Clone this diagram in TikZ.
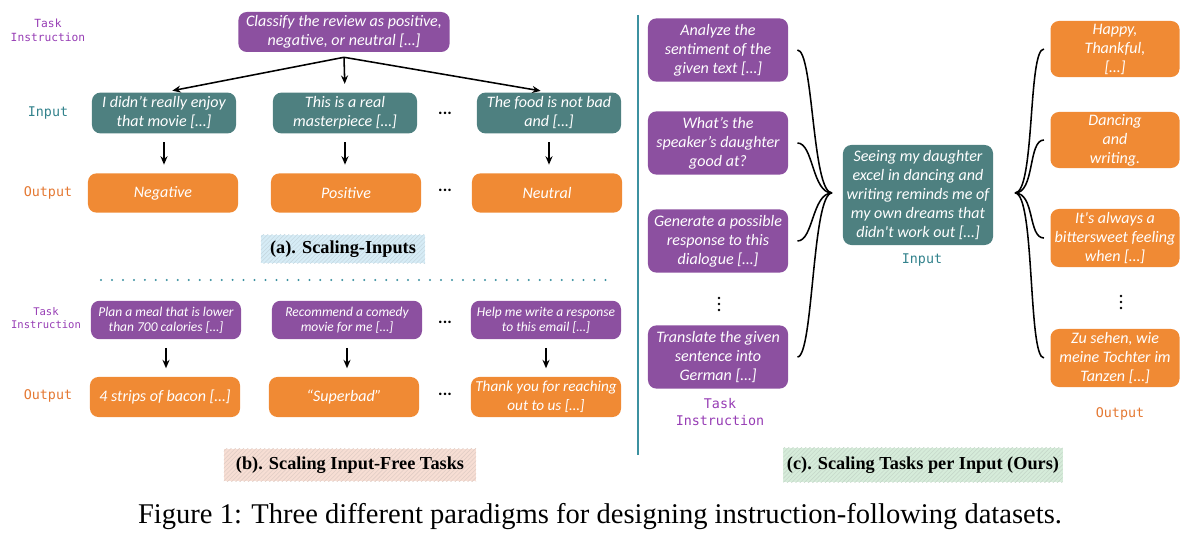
\documentclass[tikz,border=0pt]{standalone}
\usepackage{fontspec}
\setmainfont{Liberation Serif}
\newfontfamily\boxfont{Carlito}
\newfontfamily\labfont{DejaVu Sans Mono}
\usetikzlibrary{arrows.meta, positioning, calc, patterns}
\definecolor{boxpurple}{RGB}{140, 80, 160}
\definecolor{boxteal}{RGB}{78, 128, 128}
\definecolor{boxorange}{RGB}{240, 138, 52}
\definecolor{labpurple}{RGB}{150, 60, 180}
\definecolor{labteal}{RGB}{50, 130, 140}
\definecolor{laborange}{RGB}{228, 120, 50}
\definecolor{divteal}{RGB}{60, 145, 160}
\definecolor{tagblue}{RGB}{214, 236, 246}
\definecolor{tagpeach}{RGB}{247, 222, 212}
\definecolor{taggreen}{RGB}{214, 236, 218}

\begin{document}
\begin{tikzpicture}[x=0.025cm, y=-0.025cm,
  box/.style={rounded corners=6pt, text=white, align=center, inner sep=0pt,
    font={\boxfont\itshape\fontsize{11.4}{13.5}\selectfont}},
  tibox/.style={box, fill=boxpurple},
  inbox/.style={box, fill=boxteal},
  outbox/.style={box, fill=boxorange},
  lab/.style={align=center, inner sep=0pt, font={\labfont\fontsize{9.5}{12}\selectfont}},
  arr/.style={-{Stealth[length=6pt, width=5pt]}, line width=1.1pt, shorten <=6pt, shorten >=6pt},
  brace/.style={line width=1.1pt},
  hdots/.style={font={\boxfont\bfseries\fontsize{12}{12}\selectfont}},
  vdot/.style={radius=1.4},
  tag/.style={inner sep=0pt, font={\bfseries\fontsize{13}{15}\selectfont}}
]
\useasboundingbox (0,0) rectangle (1200,536);

% (a) Scaling inputs
\node[lab, text=labpurple, font={\labfont\fontsize{8}{10}\selectfont}] (tiA) at (48,30) {Task\\Instruction};
\node[lab, text=labteal] (inA) at (48,113) {Input};
\node[lab, text=laborange] (outA) at (48,193) {Output};

\node[tibox, minimum width=5.28cm, minimum height=1cm] (top) at (344,32) {Classify the review as positive,\\negative, or neutral […]};
\coordinate (split) at ($(top.south)+(0,5)$);

\foreach \n/\x/\txt in {1/164/{I didn’t really enjoy\\that movie […]}, 2/345/{This is a real\\masterpiece […]}, 3/549/{The food is not bad\\and […]}} {
    \node[inbox, minimum width=3.6cm, minimum height=1.02cm] (in\n) at (\x,113) {\txt};
}
\foreach \n/\x/\txt in {1/163/Negative, 2/346/Positive, 3/547/Neutral} {
    \node[outbox, minimum width=3.75cm, minimum height=0.98cm] (out\n) at (\x,193) {\txt};
}
\foreach \n in {1,2,3} {
    \draw[arr, shorten <=0pt] (split) -- (in\n.north);
    \draw[arr] (in\n.south) -- (in\n.south |- out\n.north);
}
\node[hdots] (dotA1) at (445,113) {...};
\node[hdots] (dotA2) at (445,190) {...};

\node[tag, fill=tagblue, postaction={pattern=north east lines, pattern color=tagblue!82!gray}, minimum width=4.1cm, minimum height=0.7cm] (tagA) at (343,249) {(a). Scaling-Inputs};

% separator
\draw[divteal, line width=1.6pt, line cap=round, dash pattern=on 0pt off 7.8pt] (101,280) -- (611,280);

% (b) Scaling input-free tasks
\node[lab, text=labpurple, font={\labfont\fontsize{7.5}{9.2}\selectfont}] (tiB) at (46,318) {Task\\Instruction};
\node[lab, text=laborange] (outB) at (48,396) {Output};

\foreach \n/\x/\txt in {1/166/{Plan a meal that is lower\\than 700 calories […]}, 2/347/{Recommend a comedy\\movie for me […]}, 3/546/{Help me write a response\\to this email […]}} {
    \node[tibox, minimum width=3.75cm, minimum height=0.96cm, font={\boxfont\itshape\fontsize{9.6}{11}\selectfont}] (tb\n) at (\x,320) {\txt};
}
\foreach \n/\x/\txt in {1/165/{4 strips of bacon […]}, 2/344/{“Superbad”}} {
    \node[outbox, minimum width=3.75cm, minimum height=1cm] (ob\n) at (\x,397) {\txt};
}
\node[outbox, minimum width=3.75cm, minimum height=1cm, font={\boxfont\itshape\fontsize{10.8}{13.5}\selectfont}] (ob3) at (546,397) {Thank you for reaching\\out to us […]};
\draw[arr] (tb1.south) -- (tb1.south |- ob1.north);
\draw[arr] (tb2.south) -- (tb2.south |- ob2.north);
\draw[arr] (tb3.south) -- (tb3.south |- ob3.north);
\node[hdots] (dotB1) at (445,322) {...};
\node[hdots] (dotB2) at (445,394) {...};

\node[tag, fill=tagpeach, postaction={pattern=north east lines, pattern color=tagpeach!82!gray}, minimum width=6.3cm, minimum height=0.8cm] (tagB) at (350,465) {(b). Scaling Input-Free Tasks};

% divider
\draw[divteal, line width=1.8pt] (638,15) -- (638,455);

% (c) Scaling tasks per input
\foreach \n/\y/\txt in {1/50/{Analyze the\\sentiment of the\\given text […]}, 2/143/{What’s the\\speaker’s daughter\\good at?}, 3/241/{Generate a possible\\response to this\\dialogue […]}, 4/357/{Translate the given\\sentence into\\German […]}} {
    \node[tibox, minimum width=3.5cm, minimum height=1.58cm] (rt\n) at (718,\y) {\txt};
}
\foreach \y in {298,304,310} \fill[vdot] (719,\y) circle;
\node[lab, text=labpurple] (tiC) at (720,412) {Task\\Instruction};

\node[inbox, minimum width=3.75cm, minimum height=2.5cm] (rin) at (918,195) {Seeing my daughter\\excel in dancing and\\writing reminds me of\\my own dreams that\\didn\textquotesingle t work out […]};
\node[lab, text=labteal] (inC) at (922,260) {Input};

\foreach \n/\y/\h/\txt in {1/49/1.4/{Happy,\\Thankful,\\{[…]}}, 2/140/1.4/{Dancing\\and\\writing.}, 3/238/1.45/{It\textquotesingle s always a\\bittersweet feeling\\when […]}, 4/358/1.45/{Zu sehen, wie\\meine Tochter im\\Tanzen […]}} {
    \node[outbox, minimum width=3.225cm, minimum height=\h cm] (ro\n) at (1115,\y) {\txt};
}
\foreach \y in {296,302,308} \fill[vdot] (1121,\y) circle;
\node[lab, text=laborange] (outC) at (1120,414) {Output};

% braces
\coordinate (lbrace) at (832,193);
\coordinate (rbrace) at (1015,193);
\foreach \n in {1,...,4} {
    \draw[brace] ([xshift=6.5pt]rt\n.east) .. controls +(16,0) and +(-20,0) .. (lbrace);
    \draw[brace] (rbrace) .. controls +(20,0) and +(-16,0) .. ([xshift=-4.5pt]ro\n.west);
}

\node[tag, fill=taggreen, postaction={pattern=north east lines, pattern color=taggreen!82!gray}, minimum width=6.98cm, minimum height=0.85cm] (tagC) at (923,465) {(c). Scaling Tasks per Input (Ours)};

% figure caption
\node[font=\fontsize{20.3}{22}\selectfont] (figcap) at (600,517) {Figure 1: Three different paradigms for designing instruction-following datasets.};
\end{tikzpicture}
\end{document}
